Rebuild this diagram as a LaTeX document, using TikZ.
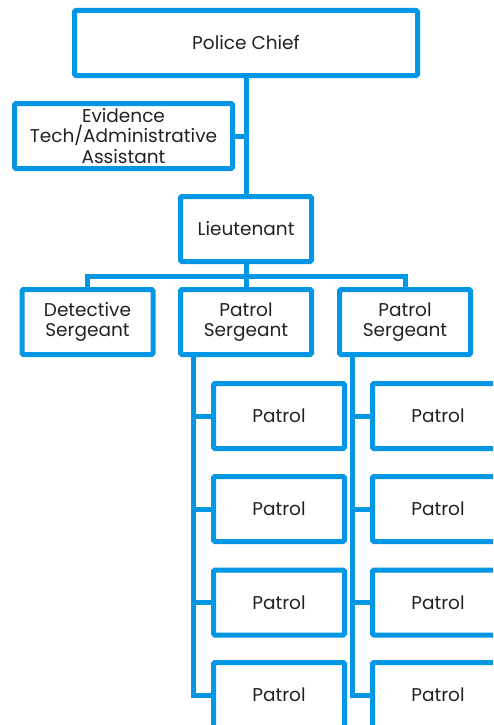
\documentclass[tikz,border=0pt]{standalone}
\usepackage{fontspec}
\setmainfont{Poppins}
\usetikzlibrary{calc}
\definecolor{orgblue}{RGB}{3,150,229}
\definecolor{txt}{RGB}{34,34,34}
\begin{document}
\begin{tikzpicture}[x=1pt,y=-1pt,
  box/.style={draw=orgblue, line width=5pt, rounded corners=1.5pt, fill=white,
    align=center, text=txt, inner sep=0pt,
    font=\fontsize{18.5}{20.5}\selectfont},
  wide/.style={minimum width=343pt, minimum height=65pt},
  evbox/.style={minimum width=218pt, minimum height=65pt},
  unit/.style={minimum width=131pt, minimum height=65pt},
  link/.style={draw=orgblue, line width=5pt}]
\useasboundingbox (0,0) rectangle (493,725);
\clip (0,0) rectangle (493,725);
\fill[white] (0,0) rectangle (493,725);
% nodes
\node[box,wide]  (chief) at (246,43)    {Police Chief};
\node[box,evbox] (ev)    at (123.5,136) {Evidence\\Tech/Administrative\\Assistant};
\node[box,unit]  (lt)    at (246,229)   {Lieutenant};
\node[box,unit]  (det)   at (87.5,322)  {Detective\\Sergeant};
\node[box,unit]  (ps1)   at (246,322)   {Patrol\\Sergeant};
\node[box,unit]  (ps2)   at (405,322)   {Patrol\\Sergeant};
\foreach \i/\y in {1/416,2/509,3/602.5,4/695}{
  \node[box,unit] (a\i) at (279,\y) {Patrol};
  \node[box,unit] (b\i) at (438,\y) {Patrol};
}
% connectors
\coordinate (bus) at ($(lt.south)!0.55!(ps1.north)$);
\coordinate (s1) at ($(ps1.south west)+(15,0)$);
\coordinate (s2) at ($(ps2.south west)+(15,0)$);
\draw[link] (chief.south) -- (lt.north);
\draw[link] (ev.east) -- (ev.east -| chief.south);
\draw[link] (lt.south) -- (ps1.north);
\draw[link] (det.north) |- (bus) -| (ps2.north);
\draw[link] (s1) |- (a4.west);
\draw[link] (s2) |- (b4.west);
\foreach \i in {1,2,3}{
  \draw[link] (s1 |- a\i.west) -- (a\i.west);
  \draw[link] (s2 |- b\i.west) -- (b\i.west);
}
\end{tikzpicture}
\end{document}
